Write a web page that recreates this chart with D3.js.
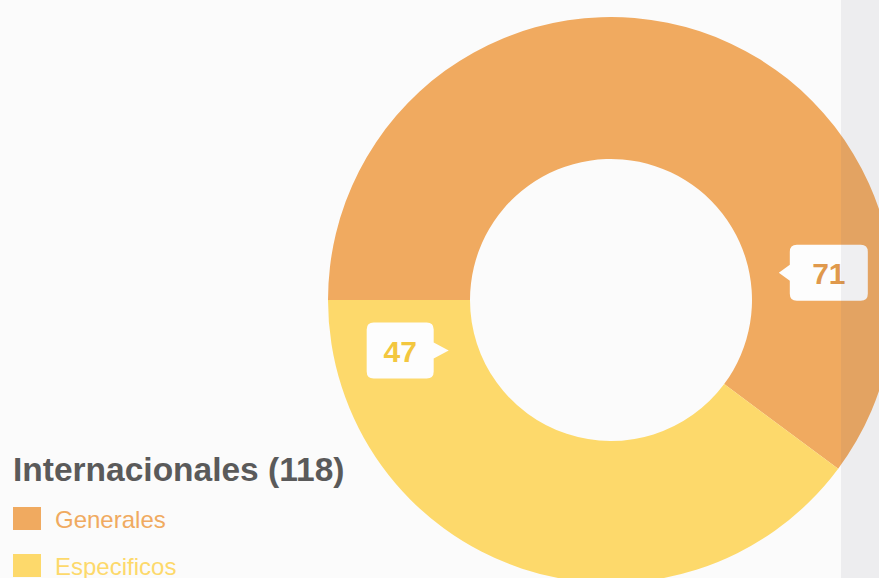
<!DOCTYPE html>
<html>
<head>
<meta charset="utf-8">
<script src="https://cdn.jsdelivr.net/npm/d3@7"></script>
<style>
  html, body { margin: 0; padding: 0; background: #fbfbfb; }
  svg { display: block; }
</style>
</head>
<body>
<svg id="chart" width="879" height="578"></svg>
<script>
const title = "Internacionales (118)";
const categories = ["Generales", "Especificos"];
const values = [71, 47];
const colors = ["#f0aa60", "#fdd96b"];
const labelColors = ["#e0994c", "#f3c73f"];

const W = 879, H = 578;
const cx = 611, cy = 300, outerR = 283, innerR = 141;

const svg = d3.select("#chart");
svg.append("rect").attr("width", W).attr("height", H).attr("fill", "#fbfbfb");

const pie = d3.pie().sort(null).value(d => d)
  .startAngle(-Math.PI / 2).endAngle(3 * Math.PI / 2);
const arcs = pie(values);
const arc = d3.arc().innerRadius(innerR).outerRadius(outerR);

const g = svg.append("g").attr("transform", `translate(${cx},${cy})`);
g.selectAll("path.slice").data(arcs).enter().append("path")
  .attr("class", "slice")
  .attr("d", arc)
  .attr("fill", (d, i) => colors[i]);

// value callouts (tip placed on a ring around the hole)
const labelAngleDeg = [80.8, -107.3];
const labelR = 170;
const boxW = [78, 67], boxH = 56, gap = [11, 15], notch = 8;
arcs.forEach((d, i) => {
  const a = labelAngleDeg[i] * Math.PI / 180;
  const tx = labelR * Math.sin(a), ty = -labelR * Math.cos(a);
  const right = tx > 0;
  const w = boxW[i];
  const x0 = right ? tx + gap[i] : tx - gap[i] - w;
  const y0 = ty - boxH / 2;
  const r = 7;
  const p = d3.path();
  p.moveTo(x0 + r, y0);
  p.lineTo(x0 + w - r, y0);
  p.quadraticCurveTo(x0 + w, y0, x0 + w, y0 + r);
  if (!right) {
    p.lineTo(x0 + w, ty - notch);
    p.lineTo(tx, ty);
    p.lineTo(x0 + w, ty + notch);
  }
  p.lineTo(x0 + w, y0 + boxH - r);
  p.quadraticCurveTo(x0 + w, y0 + boxH, x0 + w - r, y0 + boxH);
  p.lineTo(x0 + r, y0 + boxH);
  p.quadraticCurveTo(x0, y0 + boxH, x0, y0 + boxH - r);
  if (right) {
    p.lineTo(x0, ty + notch);
    p.lineTo(tx, ty);
    p.lineTo(x0, ty - notch);
  }
  p.lineTo(x0, y0 + r);
  p.quadraticCurveTo(x0, y0, x0 + r, y0);
  p.closePath();
  g.append("path").attr("d", p.toString()).attr("fill", "#fdfdfd");
  g.append("text")
    .attr("x", x0 + w / 2)
    .attr("y", ty + 1)
    .attr("text-anchor", "middle")
    .attr("dominant-baseline", "central")
    .attr("font-family", "Liberation Sans, Arial, sans-serif")
    .attr("font-weight", "bold")
    .attr("font-size", 30)
    .attr("fill", labelColors[i])
    .text(d.data);
});

// title & legend
svg.append("text")
  .attr("x", 13).attr("y", 481)
  .attr("font-family", "Liberation Sans, Arial, sans-serif")
  .attr("font-weight", "bold")
  .attr("font-size", 33.5)
  .attr("fill", "#5a5a5a")
  .text(title);

const leg = svg.append("g");
categories.forEach((c, i) => {
  const y = 507 + i * 47;
  leg.append("rect").attr("x", 13).attr("y", y).attr("width", 28).attr("height", 23)
    .attr("fill", colors[i]);
  leg.append("text").attr("x", 55).attr("y", y + 21)
    .attr("font-family", "Liberation Sans, Arial, sans-serif")
    .attr("font-size", 24)
    .attr("fill", colors[i])
    .text(c);
});

// side panel overlay
svg.append("rect").attr("x", 841).attr("y", 0).attr("width", W - 841).attr("height", H)
  .attr("fill", "rgb(100,100,120)").attr("fill-opacity", 0.09);
</script>
</body>
</html>
